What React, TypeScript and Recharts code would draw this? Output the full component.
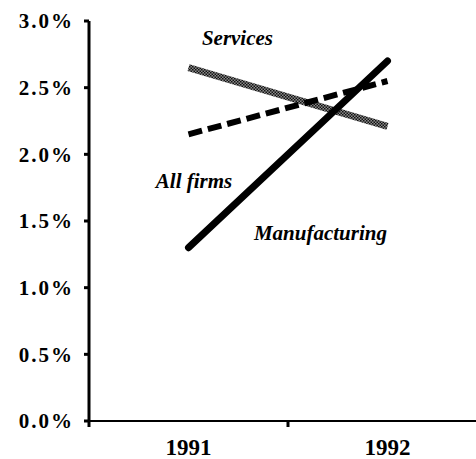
import React from 'react';
import { LineChart, Line, XAxis, YAxis, ReferenceDot } from 'recharts';

const categories = ['1991', '1992'];
const services = [2.65, 2.21];
const allFirms = [2.15, 2.55];
const manufacturing = [1.3, 2.7];
const yTicks = [0, 0.5, 1, 1.5, 2, 2.5, 3];

const seriesLabels = [
  { text: 'Services', x: 0.746, y: 2.87 },
  { text: 'All firms', x: 0.528, y: 1.8 },
  { text: 'Manufacturing', x: 1.163, y: 1.41 },
];

const data = categories.map((c, i) => ({
  x: i + 0.5,
  name: c,
  services: services[i],
  allFirms: allFirms[i],
  manufacturing: manufacturing[i],
}));

const xTickValues: number[] = [];
categories.forEach((_, i) => {
  xTickValues.push(i);
  xTickValues.push(i + 0.5);
});

const SERIF = '"Liberation Serif", "Times New Roman", serif';

const XTick = (props: any) => {
  const { x, y, payload } = props;
  const v = payload.value as number;
  if (Number.isInteger(v)) {
    return <line x1={x} x2={x} y1={y} y2={y + 6} stroke="#000" strokeWidth={3} />;
  }
  const label = categories[Math.floor(v)];
  return (
    <text x={x} y={y + 34} textAnchor="middle" fontFamily={SERIF} fontWeight="bold" fontSize={23} fill="#000">
      {label}
    </text>
  );
};

const renderLabel = (text: string) => (props: any) => {
  const { viewBox } = props;
  const cx = viewBox.x + (viewBox.width || 0) / 2;
  const cy = viewBox.y + (viewBox.height || 0) / 2;
  return (
    <text x={cx} y={cy} textAnchor="middle" dominantBaseline="central" fontFamily={SERIF} fontWeight="bold" fontStyle="italic" fontSize={21} fill="#000">
      {text}
    </text>
  );
};

export default function App() {
  return (
    <div style={{ position: 'fixed', left: 0, top: 0, width: 476, height: 459, overflow: 'hidden', background: '#fff' }}>
      <LineChart width={488} height={459} data={data} margin={{ top: 21, right: 1, bottom: 0, left: 0 }}>
        <defs>
          <pattern id="stipple" patternUnits="userSpaceOnUse" width="3" height="3">
            <rect width="3" height="3" fill="#8a8a8a" />
            <rect width="1.5" height="1.5" fill="#111" />
            <rect x="1.5" y="1.5" width="1.5" height="1.5" fill="#111" />
          </pattern>
        </defs>
        <XAxis
          dataKey="x"
          type="number"
          domain={[0, categories.length]}
          ticks={xTickValues}
          interval={0}
          height={38}
          tickSize={0}
          tickMargin={0}
          tickLine={false}
          tick={<XTick />}
          axisLine={{ stroke: '#000', strokeWidth: 2 }}
        />
        <YAxis
          domain={[0, 3]}
          ticks={yTicks}
          interval={0}
          width={89}
          tickSize={5}
          tickMargin={10}
          tickFormatter={(v: number) => v.toFixed(1) + '%'}
          tick={{ fontFamily: SERIF, fontWeight: 'bold', fontSize: 21, fill: '#000', letterSpacing: 2 }}
          tickLine={{ stroke: '#000', strokeWidth: 3 }}
          axisLine={{ stroke: '#000', strokeWidth: 3 }}
        />
        <Line dataKey="services" stroke="url(#stipple)" strokeWidth={7} dot={false} isAnimationActive={false} />
        <Line dataKey="allFirms" stroke="#000" strokeWidth={6} strokeDasharray="14 6" dot={false} isAnimationActive={false} />
        <Line dataKey="manufacturing" stroke="#000" strokeWidth={7} strokeLinecap="round" dot={false} isAnimationActive={false} />
        {seriesLabels.map((l) => (
          <ReferenceDot key={l.text} x={l.x} y={l.y} r={0} fill="none" stroke="none" label={renderLabel(l.text)} />
        ))}
      </LineChart>
    </div>
  );
}
